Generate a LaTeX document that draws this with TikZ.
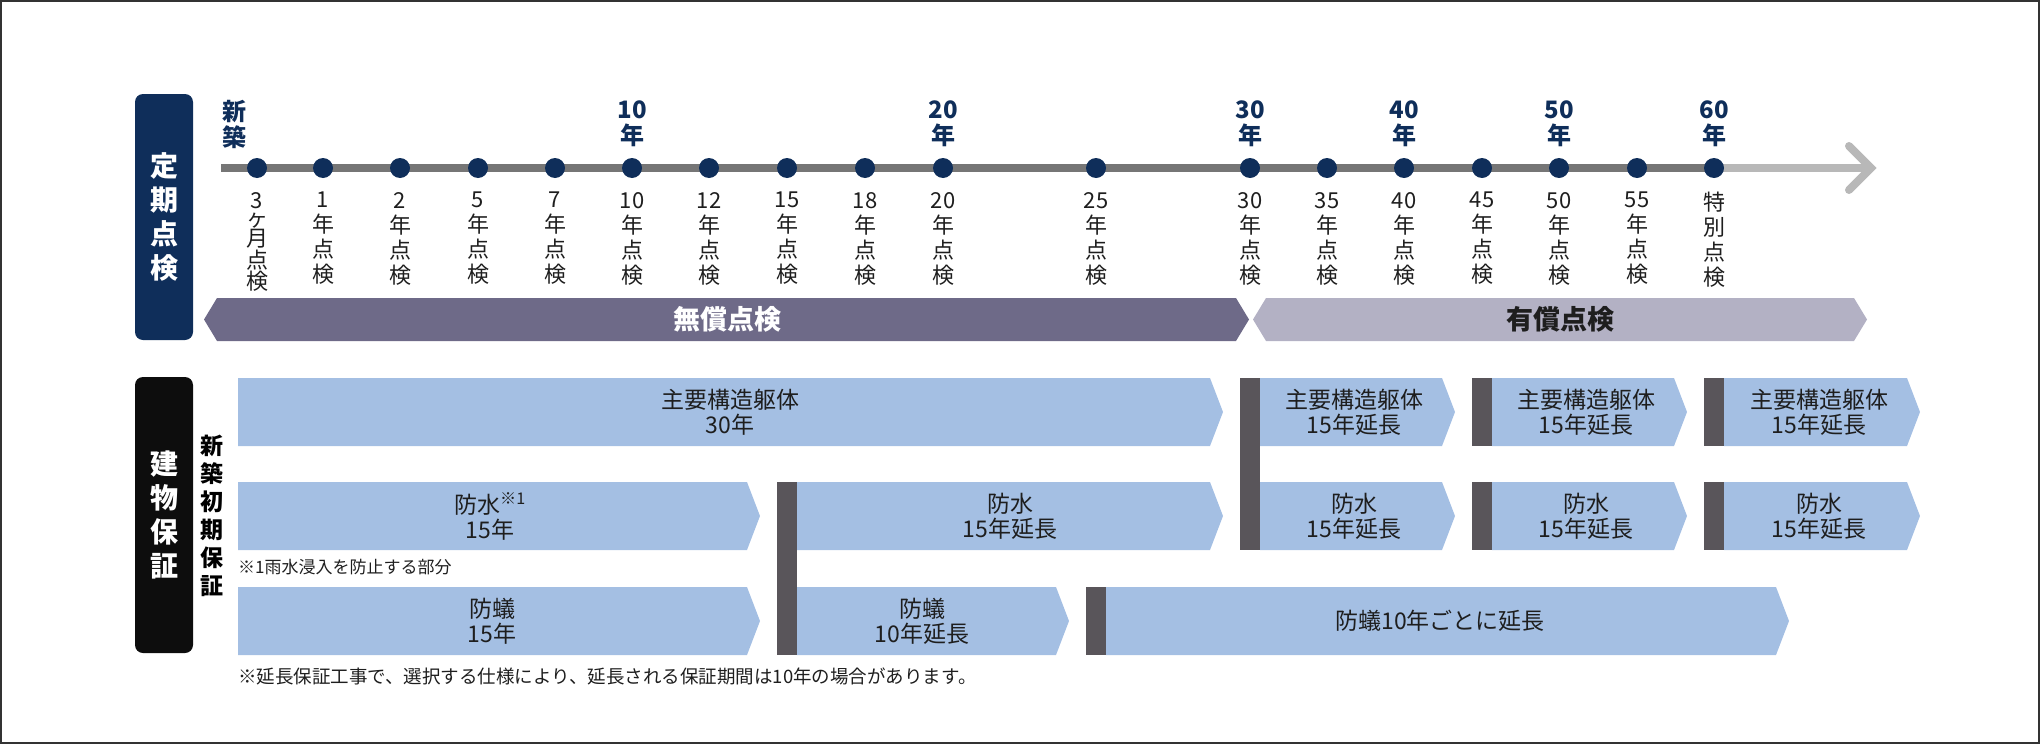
\documentclass[tikz,border=0pt]{standalone}
\usepackage{fontspec}
\setmainfont{Noto Sans CJK JP}
\definecolor{navy}{HTML}{0F2E5A}
\definecolor{txt}{HTML}{1E1E1E}
\definecolor{tlgray}{HTML}{767676}
\definecolor{tllight}{HTML}{B8B8B8}
\definecolor{freeband}{HTML}{6E6A88}
\definecolor{paidband}{HTML}{B3B1C4}
\definecolor{wblue}{HTML}{A4BFE3}
\definecolor{sepgray}{HTML}{59555A}
\tikzset{
  panel/.style={rounded corners=8pt, minimum width=58pt, text=white, inner sep=0pt,
    align=center, font=\bfseries\fontsize{28}{34}\selectfont},
  insdot/.style={circle, fill=navy, minimum size=20pt, inner sep=0pt},
  yearlabel/.style={text=navy, align=center, inner sep=0pt, font=\bfseries\fontsize{24}{26}\selectfont},
  chklabel/.style={text=txt, align=center, anchor=north, inner sep=0pt, font=\fontsize{22}{25}\selectfont},
  bandtext/.style={inner sep=0pt, font=\bfseries\fontsize{27}{30}\selectfont},
  wtext/.style={text=txt, align=center, inner sep=0pt, font=\fontsize{23}{25}\selectfont},
  notetext/.style={text=txt, anchor=west, inner sep=0pt},
}
\begin{document}
\begin{tikzpicture}[x=1pt,y=-1pt]
\useasboundingbox (0,0) rectangle (2040,744);
\draw[line width=2pt, black!80] (1,1) rectangle (2039,743);

\node[panel, fill=navy, minimum height=246pt] (teiki) at (164,217) {定\\期\\点\\検};
\node[panel, fill=black!95, minimum height=276pt] (hosho) at (164,515) {建\\物\\保\\証};
\node[text=black, align=center, inner sep=0pt, font=\bfseries\fontsize{23}{28}\selectfont] (shinchiku) at (212,516) {新\\築\\初\\期\\保\\証};

\coordinate (tlstart) at (221,168);
\coordinate (tlsixty) at (1714,168);
\coordinate (tltip) at (1871,168);
\coordinate (tlup) at (1849,146);
\coordinate (tldown) at (1849,190);
\draw[line width=8pt, tlgray] (tlstart) -- (tlsixty);
\draw[line width=8pt, tllight] (tlsixty) -- (tltip);
\draw[line width=8pt, tllight, line cap=round] (tlup) -- (tltip) -- (tldown);

\node[insdot] (m3) at (257,168) {};
\node[insdot] (y1) at (323,168) {};
\node[insdot] (y2) at (400,168) {};
\node[insdot] (y5) at (478,168) {};
\node[insdot] (y7) at (555,168) {};
\node[insdot] (y10) at (632,168) {};
\node[insdot] (y12) at (709,168) {};
\node[insdot] (y15) at (787,168) {};
\node[insdot] (y18) at (865,168) {};
\node[insdot] (y20) at (943,168) {};
\node[insdot] (y25) at (1096,168) {};
\node[insdot] (y30) at (1250,168) {};
\node[insdot] (y35) at (1327,168) {};
\node[insdot] (y40) at (1404,168) {};
\node[insdot] (y45) at (1482,168) {};
\node[insdot] (y50) at (1559,168) {};
\node[insdot] (y55) at (1637,168) {};
\node[insdot] (y60) at (1714,168) {};

\node[yearlabel] (t0) at (234,124) {新\\築};
\node[yearlabel] (t10) at (632,124) {10\\年};
\node[yearlabel] (t20) at (943,124) {20\\年};
\node[yearlabel] (t30) at (1250,124) {30\\年};
\node[yearlabel] (t40) at (1404,124) {40\\年};
\node[yearlabel] (t50) at (1559,124) {50\\年};
\node[yearlabel] (t60) at (1714,124) {60\\年};

\node[chklabel, font=\fontsize{22}{18.5}\selectfont] (lm3) at (257,192) {3\\ヶ\\月\\点\\検};
\node[chklabel] (l1) at (323,192) {1\\年\\点\\検};
\node[chklabel] (l2) at (400,192) {2\\年\\点\\検};
\node[chklabel] (l5) at (478,192) {5\\年\\点\\検};
\node[chklabel] (l7) at (555,192) {7\\年\\点\\検};
\node[chklabel] (l10) at (632,192) {10\\年\\点\\検};
\node[chklabel] (l12) at (709,192) {12\\年\\点\\検};
\node[chklabel] (l15) at (787,192) {15\\年\\点\\検};
\node[chklabel] (l18) at (865,192) {18\\年\\点\\検};
\node[chklabel] (l20) at (943,192) {20\\年\\点\\検};
\node[chklabel] (l25) at (1096,192) {25\\年\\点\\検};
\node[chklabel] (l30) at (1250,192) {30\\年\\点\\検};
\node[chklabel] (l35) at (1327,192) {35\\年\\点\\検};
\node[chklabel] (l40) at (1404,192) {40\\年\\点\\検};
\node[chklabel] (l45) at (1482,192) {45\\年\\点\\検};
\node[chklabel] (l50) at (1559,192) {50\\年\\点\\検};
\node[chklabel] (l55) at (1637,192) {55\\年\\点\\検};
\node[chklabel] (l60) at (1714,192) {特\\別\\点\\検};

\fill[freeband] (204,319.5) -- (217,298) -- (1236,298) -- (1249,319.5) -- (1236,341) -- (217,341) -- cycle;
\fill[paidband] (1253,319.5) -- (1266,298) -- (1854,298) -- (1867,319.5) -- (1854,341) -- (1266,341) -- cycle;
\node[bandtext, text=white] (muso) at (727,319.5) {無償点検};
\node[bandtext, text=txt] (yuso) at (1560,319.5) {有償点検};

\fill[wblue] (238,378) -- (1210,378) -- (1223,412) -- (1210,446) -- (238,446) -- cycle;
\fill[wblue] (1260,378) -- (1442,378) -- (1455,412) -- (1442,446) -- (1260,446) -- cycle;
\fill[wblue] (1492,378) -- (1674,378) -- (1687,412) -- (1674,446) -- (1492,446) -- cycle;
\fill[wblue] (1724,378) -- (1907,378) -- (1920,412) -- (1907,446) -- (1724,446) -- cycle;
\fill[wblue] (238,482) -- (747,482) -- (760,516) -- (747,550) -- (238,550) -- cycle;
\fill[wblue] (797,482) -- (1210,482) -- (1223,516) -- (1210,550) -- (797,550) -- cycle;
\fill[wblue] (1260,482) -- (1442,482) -- (1455,516) -- (1442,550) -- (1260,550) -- cycle;
\fill[wblue] (1492,482) -- (1674,482) -- (1687,516) -- (1674,550) -- (1492,550) -- cycle;
\fill[wblue] (1724,482) -- (1907,482) -- (1920,516) -- (1907,550) -- (1724,550) -- cycle;
\fill[wblue] (238,587) -- (747,587) -- (760,621) -- (747,655) -- (238,655) -- cycle;
\fill[wblue] (797,587) -- (1056,587) -- (1069,621) -- (1056,655) -- (797,655) -- cycle;
\fill[wblue] (1106,587) -- (1776,587) -- (1789,621) -- (1776,655) -- (1106,655) -- cycle;

\fill[sepgray] (1240,378) rectangle (1260,550);
\fill[sepgray] (1472,378) rectangle (1492,446);
\fill[sepgray] (1704,378) rectangle (1724,446);
\fill[sepgray] (1472,482) rectangle (1492,550);
\fill[sepgray] (1704,482) rectangle (1724,550);
\fill[sepgray] (777,482) rectangle (797,655);
\fill[sepgray] (1086,587) rectangle (1106,655);

\node[wtext] (kutai30) at (730,412) {主要構造躯体\\30年};
\node[wtext] (kutai45) at (1354,412) {主要構造躯体\\15年延長};
\node[wtext] (kutai60) at (1586,412) {主要構造躯体\\15年延長};
\node[wtext] (kutai75) at (1819,412) {主要構造躯体\\15年延長};
\node[wtext] (bosui15) at (490,516) {防水\textsuperscript{※1}\\15年};
\node[wtext] (bosui30) at (1010,516) {防水\\15年延長};
\node[wtext] (bosui45) at (1354,516) {防水\\15年延長};
\node[wtext] (bosui60) at (1586,516) {防水\\15年延長};
\node[wtext] (bosui75) at (1819,516) {防水\\15年延長};
\node[wtext] (boqi15) at (492,621) {防蟻\\15年};
\node[wtext] (boqi25) at (922,621) {防蟻\\10年延長};
\node[wtext] (boqiall) at (1440,621) {防蟻10年ごとに延長};

\node[notetext, font=\fontsize{17}{20}\selectfont] (note1) at (238,567) {※1雨水浸入を防止する部分};
\node[notetext, font=\fontsize{18.5}{20}\selectfont] (note2) at (238,676) {※延長保証工事で、選択する仕様により、延長される保証期間は10年の場合があります。};
\end{tikzpicture}
\end{document}
